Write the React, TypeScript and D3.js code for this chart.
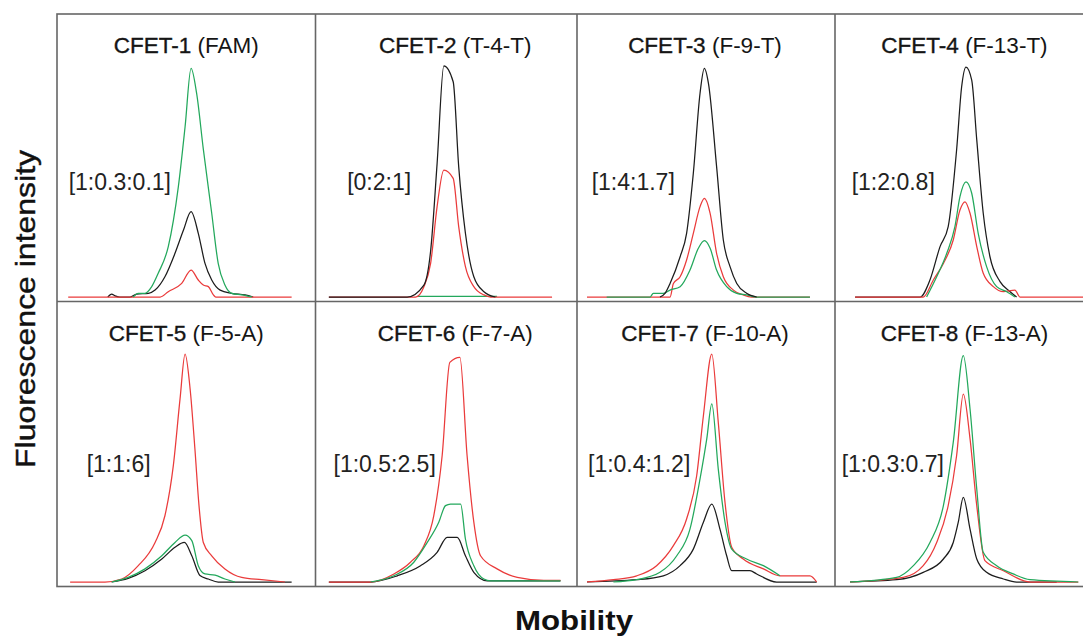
import React from "react";
import * as d3 from "d3";

type Pt = [number, number];

// Panel titles / annotations
const panelNames = ["CFET-1", "CFET-2", "CFET-3", "CFET-4", "CFET-5", "CFET-6", "CFET-7", "CFET-8"];
const panelDyes = ["(FAM)", "(T-4-T)", "(F-9-T)", "(F-13-T)", "(F-5-A)", "(F-7-A)", "(F-10-A)", "(F-13-A)"];
const ratioLabels = ["[1:0.3:0.1]", "[0:2:1]", "[1:4:1.7]", "[1:2:0.8]", "[1:1:6]", "[1:0.5:2.5]", "[1:0.4:1.2]", "[1:0.3:0.7]"];

// Traces: [mobility, fluorescence intensity]
const blackSeries: Pt[][] = [
  [[17,0],[18.6,1.3],[20,0.5],[22,0],[26.3,0],[29,1.3],[33.9,1.6],[36.7,3],[40.8,8.8],[45,19],[48.5,29],[51.7,37.1],[54.7,27.7],[57.5,14.6],[60.3,7.4],[63.8,3],[68.6,1.6],[74.2,0.9],[77.6,0]],
  [[1.4,0],[34,0],[41,5.2],[43.8,20],[46.5,58],[49.3,100.5],[53.2,93.6],[55.5,56.7],[58.3,27.7],[61.8,8.8],[66,2.3],[70.8,0]],
  [[30.4,0],[32.5,1.6],[34.6,5.9],[38.8,17.5],[41.5,27.7],[44.3,53.8],[47.1,88.6],[48.9,99.4],[50.6,92.9],[54,56.7],[56.8,24.8],[59.6,13.2],[62.4,5.9],[66.5,1.6],[70.7,0]],
  [[4.2,0],[31.3,0],[35.4,7.4],[39.6,21.9],[43,30.6],[46.5,63.9],[48.6,91.4],[50.4,100],[52.8,94.3],[54.9,68.3],[57.6,36.4],[60.4,17.5],[64.6,6.7],[68.8,2.3],[71.5,0]],
  [[18.6,0],[25.5,1.6],[32.5,4.9],[39.5,10],[45,15.1],[48.9,17.2],[52,11.4],[55.4,2.8],[58.9,1.3],[63,0],[93.6,0]],
  [[1.4,0],[18.8,0],[29.9,2.7],[39.6,7.1],[46.5,12.9],[50.7,19.4],[54.9,19.4],[58.3,11.4],[61.8,4.2],[67.4,0.5],[97.9,0.5]],
  [[0,0],[20.7,1],[31.8,2.7],[38.8,7.1],[44.3,14.3],[48.5,26],[52,33.9],[55.4,23],[58.2,11.4],[60.3,4.9],[67.9,4.9],[70.7,3.5],[79,0],[95.7,0]],
  [[2.1,0],[21.5,1],[32.6,4.2],[41,10],[45.1,17.2],[47.2,26],[49.3,36.8],[52.1,23],[54.9,10],[59,4.2],[66,1.3],[71.5,0],[88.2,0]],
];

const redSeries: Pt[][] = [
  [[0.5,0],[38.8,0],[42.2,2.3],[47.8,5.9],[51.7,11.7],[54.7,7.4],[56.8,5.2],[58.9,4.5],[61,0.9],[62,0],[93.6,0]],
  [[1.4,0],[37.5,0],[41,4.5],[43.8,14.6],[46.5,39.3],[49.3,55.2],[53.2,51.6],[55.5,30.6],[58.3,13.2],[61.8,4.5],[66,0.9],[68.8,0],[94.4,0]],
  [[0,0],[34.6,0],[36,5.9],[38.8,8.8],[41.5,16.1],[44.3,27.7],[47.1,39.3],[48.9,42.9],[51.3,36.4],[54,19],[56.8,8.8],[61,3],[65.1,0.9],[68.6,0],[92.9,0]],
  [[4.2,0],[32.6,0],[36.8,7.4],[41,14.6],[45.1,24.8],[47.9,37.8],[50,41.4],[52.1,36.4],[54.9,21.9],[57.6,10.3],[61.8,4.5],[66,2.3],[70.8,3],[72.9,0],[100,0]],
  [[1.3,0],[15.8,0],[22.8,1.3],[29.7,7.1],[36.7,17.2],[40.8,28.8],[44.3,50.6],[47.1,79.6],[49.2,99.1],[51.3,83.9],[53.3,57.8],[55,33.2],[56.8,17.2],[60.3,11.4],[65.8,5.7],[72.8,2],[81.1,1],[90.8,0]],
  [[1.4,0],[18.8,0],[28.5,3.5],[35.4,8.6],[41,15.8],[45.1,28.8],[48.6,54.9],[51.8,95.5],[56,97.7],[59,54.9],[61.8,26],[64.6,11.4],[71.5,5.7],[79.9,2],[91,0.7],[97.9,0.7]],
  [[0,0],[11,1],[20.7,2.7],[29,7.1],[36,15.8],[41.5,27.4],[45.7,46.2],[48.5,72.3],[52,99.1],[54.7,69.4],[57.5,34.6],[60.3,15.1],[65.1,10],[73.5,5.7],[80.4,2.7],[92.9,2.7],[95.7,0]],
  [[2.1,0],[24.3,2],[32.6,7.1],[38.2,17.2],[43,33.2],[46.5,54.9],[49.3,81.7],[52.1,62.2],[54.9,33.2],[58.3,9.3],[66,4.9],[77.1,0],[97.2,0]],
];

const greenSeries: Pt[][] = [
  [[27.6,0],[29.7,1.6],[32.5,1.6],[35.3,4.5],[38,10.3],[42.2,21.9],[46.4,48],[49.2,74],[51.7,99.4],[54,88.6],[56.8,64.3],[60.3,36.4],[63,14.6],[65.8,5.2],[68.6,1.6],[72.8,0.9],[77,0]],
  [[38.2,0.3],[71.5,0.3]],
  [[8.2,0],[26.3,0],[27.6,1.6],[31.8,1.6],[34.6,3],[38.8,4.5],[42.9,11.7],[46.4,21.2],[48.9,24.5],[51.3,21.2],[54,11.7],[58.2,4.5],[62.4,1.6],[66.5,0.9],[70.7,0],[92.9,0]],
  [[34,0],[38.2,8.8],[42.4,19],[45.8,30.6],[47.9,43.6],[50.4,50.1],[52.8,45.1],[55.5,27.7],[59,13.2],[63.2,4.5],[67.4,2.3],[70.8,0]],
  [[18.6,0],[25.5,2],[32.5,5.7],[39.5,11.4],[45,17.2],[49.2,20.4],[52,18],[54.7,7.1],[57.5,3.5],[61.7,3],[65.8,1.3],[70,0]],
  [[18.8,0],[28.5,2.7],[36.8,8.6],[42.4,17.2],[47.2,26],[50,33.2],[52.1,33.9],[56.3,33.9],[58.3,18.7],[61.8,7.1],[66,1.3],[68.8,0.5],[97.9,0.5]],
  [[11,0],[20.7,1],[30.4,4.2],[37.4,11.4],[42.9,23],[47.1,44.8],[49.9,62.2],[52,77.4],[54.7,49.1],[57.5,26],[60.3,14.3],[66.5,10],[73.5,7.1],[80.4,2.7]],
  [[2.1,0],[21.5,2],[28.5,7.1],[35.4,17.2],[41,33.2],[45.1,60.7],[49.3,98.4],[52.1,75.2],[54.9,40.4],[57.6,12.9],[63.2,7.1],[70.1,3.5],[77.1,1],[97.2,0]],
];

const xAxisLabel = "Mobility";
const yAxisLabel = "Fluorescence intensity";

// ---------- layout (not data) ----------
const W = 1083;
const H = 637;
const colX = [57, 315.5, 577, 835, 1094];
const rowY = [14, 301.5, 586.5];
const titleDx = [0, 9, -1, 0];
const ratioDx = [11.7, 31.7, 14.7, 16.7, 29.7, 18, 11, 6.7];
const ratioY = [190, 472];
const FONT = "'Liberation Sans', Arial, Helvetica, sans-serif";
const RED = "#ea3b3b";
const GREEN = "#23a85c";
const BLACK = "#1c1c1c";
const FRAME = "#666";

export default function App() {
  const panels = panelNames.map((name, i) => {
    const col = i % 4;
    const row = Math.floor(i / 4);
    const L = colX[col];
    const R = colX[col + 1];
    const baseline = rowY[row + 1] - 4.5;
    const x = d3.scaleLinear().domain([0, 100]).range([L + 10, L + 250]);
    const y = d3.scaleLinear().domain([0, 100]).range([baseline, baseline - 230]);
    const line = d3
      .line<Pt>()
      .x((d) => x(d[0]))
      .y((d) => y(d[1]))
      .curve(d3.curveMonotoneX);
    const series = [
      { color: RED, pts: redSeries[i] },
      { color: BLACK, pts: blackSeries[i] },
      { color: GREEN, pts: greenSeries[i] },
    ];
    const order = i === 1 ? [2, 0, 1] : i === 2 ? [0, 2, 1] : [1, 0, 2];
    return (
      <g key={name}>
        {order.map((k) => (
          <path
            key={k}
            d={line(series[k].pts) || ""}
            fill="none"
            stroke={series[k].color}
            strokeWidth={1.25}
            strokeLinejoin="round"
          />
        ))}
        <text
          x={(L + R) / 2 + titleDx[col]}
          y={rowY[row] + 39}
          textAnchor="middle"
          fontFamily={FONT}
          fontSize={22.5}
          fill="#151515"
        >
          <tspan stroke="#151515" strokeWidth={0.35}>{name}</tspan>
          <tspan>{" " + panelDyes[i]}</tspan>
        </text>
        <text
          x={L + ratioDx[i]}
          y={ratioY[row]}
          fontFamily={FONT}
          fontSize={23}
          fill="#222"
        >
          {ratioLabels[i]}
        </text>
      </g>
    );
  });

  return (
    <svg
      width={W}
      height={H}
      viewBox={`0 0 ${W} ${H}`}
      style={{ position: "absolute", left: 0, top: 0, display: "block", background: "#fff" }}
    >
      <rect x={0} y={0} width={W} height={H} fill="#fff" />
      <g>{panels}</g>
      {/* frame */}
      <rect
        x={colX[0]}
        y={rowY[0]}
        width={colX[4] - colX[0]}
        height={rowY[2] - rowY[0]}
        fill="none"
        stroke={FRAME}
        strokeWidth={1.6}
      />
      {[1, 2, 3].map((c) => (
        <line key={c} x1={colX[c]} x2={colX[c]} y1={rowY[0]} y2={rowY[2]} stroke={FRAME} strokeWidth={1.6} />
      ))}
      <line x1={colX[0]} x2={colX[4]} y1={rowY[1]} y2={rowY[1]} stroke={FRAME} strokeWidth={1.6} />
      {/* axis labels */}
      <text
        transform={`translate(35, 309) rotate(-90)`}
        textAnchor="middle"
        fontFamily={FONT}
        fontSize={28}
        fill="#111"
        stroke="#111"
        strokeWidth={0.4}
        textLength={318}
        lengthAdjust="spacingAndGlyphs"
      >
        {yAxisLabel}
      </text>
      <text
        x={574}
        y={630}
        textAnchor="middle"
        fontFamily={FONT}
        fontSize={28}
        fontWeight="bold"
        fill="#111"
        textLength={118}
        lengthAdjust="spacingAndGlyphs"
      >
        {xAxisLabel}
      </text>
    </svg>
  );
}
